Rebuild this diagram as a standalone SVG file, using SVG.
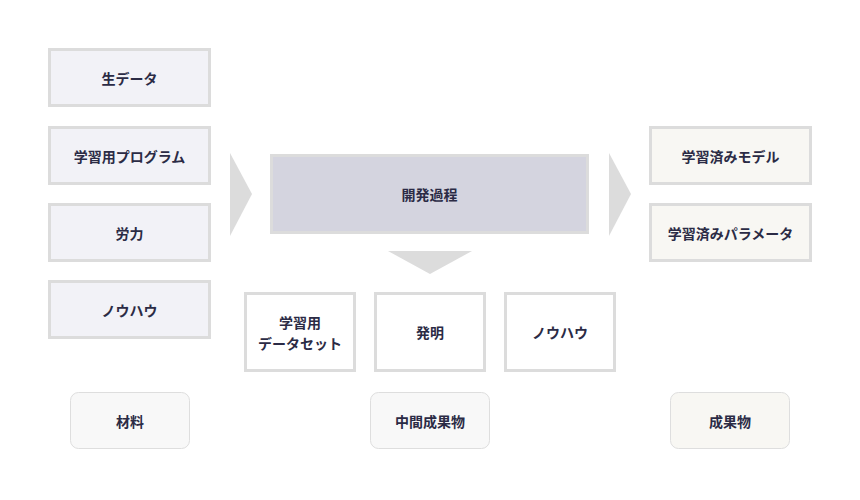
<svg xmlns="http://www.w3.org/2000/svg" width="860" height="500" viewBox="0 0 860 500">
<style>
.b{stroke:#dcdcdc;stroke-width:3}
.in{fill:#f2f2f7}.out{fill:#f8f7f3}.mid{fill:#fff}
.lab{fill:#f8f8f8;stroke:#dedede;stroke-width:1}
.lab2{fill:#f8f7f3;stroke:#dedede;stroke-width:1}
text{font-family:"Noto Sans CJK JP",sans-serif;font-size:14px;font-weight:bold;fill:#2b2b45;text-anchor:middle;dominant-baseline:central}
.ar{fill:#dcdcdc}
</style>
<rect width="860" height="500" fill="#fff"/>
<g id="n1"><rect class="b in" x="49.5" y="49.5" width="160" height="56"/><text x="129.5" y="78">生データ</text></g>
<g id="n2"><rect class="b in" x="49.5" y="127.5" width="160" height="56"/><text x="129.5" y="156">学習用プログラム</text></g>
<g id="n3"><rect class="b in" x="49.5" y="204.5" width="160" height="56"/><text x="129.5" y="233">労力</text></g>
<g id="n4"><rect class="b in" x="49.5" y="281.5" width="160" height="56"/><text x="129.5" y="310">ノウハウ</text></g>
<g id="proc"><rect class="b" fill="#d4d4df" x="271.5" y="155.5" width="316" height="77"/><text x="429.5" y="194">開発過程</text></g>
<g id="o1"><rect class="b out" x="650.5" y="127.5" width="160" height="56"/><text x="730.5" y="156">学習済みモデル</text></g>
<g id="o2"><rect class="b out" x="650.5" y="204.5" width="160" height="56"/><text x="730.5" y="233">学習済みパラメータ</text></g>
<g id="m1"><rect class="b mid" x="245.5" y="293.5" width="109" height="77"/><text x="300" y="322">学習用</text><text x="300" y="343">データセット</text></g>
<g id="m2"><rect class="b mid" x="375.5" y="293.5" width="109" height="77"/><text x="430" y="332">発明</text></g>
<g id="m3"><rect class="b mid" x="505.5" y="293.5" width="109" height="77"/><text x="560" y="332">ノウハウ</text></g>
<g id="l1"><rect class="lab" x="70.5" y="392.5" width="119" height="56" rx="8"/><text x="130" y="421">材料</text></g>
<g id="l2"><rect class="lab" x="370.5" y="392.5" width="119" height="56" rx="8"/><text x="430" y="421">中間成果物</text></g>
<g id="l3"><rect class="lab2" x="670.5" y="392.5" width="119" height="56" rx="8"/><text x="730" y="421">成果物</text></g>
<g id="connectors">
<polygon class="ar" points="230,153 252,194 230,236"/>
<polygon class="ar" points="609,153 631,194 609,236"/>
<polygon class="ar" points="388,251 472,251 430,274"/>
</g>
</svg>
